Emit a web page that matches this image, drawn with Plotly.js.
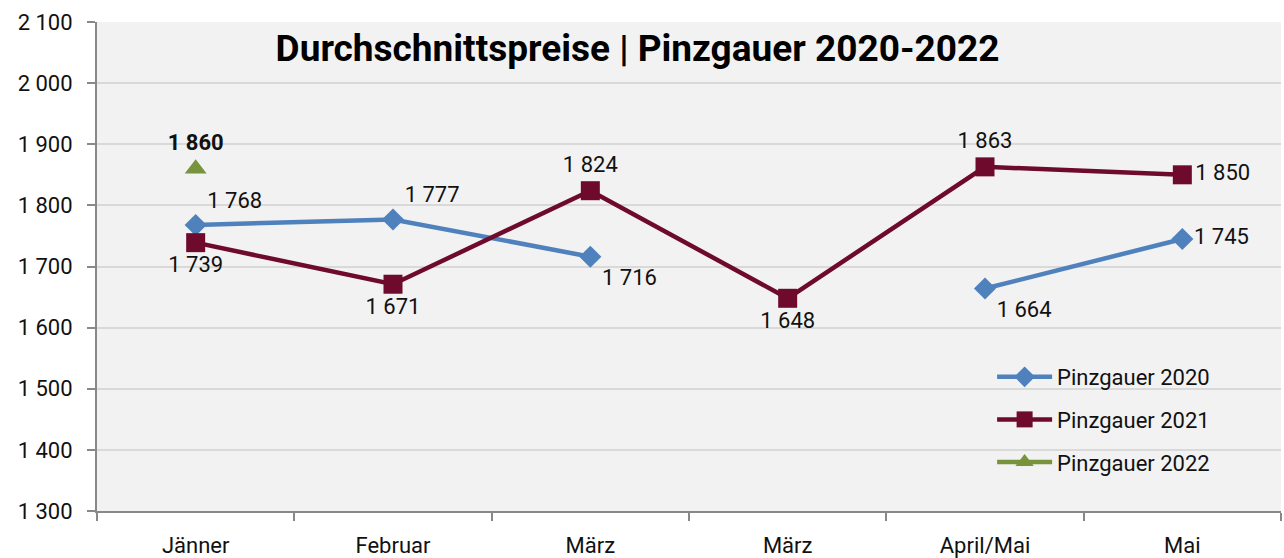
<!DOCTYPE html>
<html>
<head>
<meta charset="utf-8">
<script src="https://cdn.plot.ly/plotly-3.0.1.min.js"></script>
<style>html,body{margin:0;padding:0;background:#fff;}#chart{width:1284px;height:558px;}</style>
</head>
<body>
<div id="chart"></div>
<script>
const categories = ["Jänner", "Februar", "März", "März", "April/Mai", "Mai"];
const pinz2020 = [1768, 1777, 1716, null, 1664, 1745];
const pinz2021 = [1739, 1671, 1824, 1648, 1863, 1850];
const pinz2022 = [1860, null, null, null, null, null];
const pos2020 = ["top right", "top right", "bottom right", "middle right", "bottom right", "middle right"];
const pos2021 = ["bottom center", "bottom center", "top center", "bottom center", "top center", "middle right"];
const yTicks = [1300, 1400, 1500, 1600, 1700, 1800, 1900, 2000, 2100];

const idx = categories.map((_, i) => i);
const fmt = v => v == null ? "" : String(v).replace(/\B(?=(\d{3})+(?!\d))/g, " ");
const FONT = "Roboto, 'DejaVu Sans', sans-serif";

const traces = [
  {
    name: "Pinzgauer 2020", legendgroup: "a", x: idx, y: pinz2020, mode: "lines+markers+text",
    line: {color: "#4f81bd", width: 4.5}, marker: {symbol: "diamond", size: 17, color: "#4f81bd"},
    text: pinz2020.map(fmt), textposition: pos2020,
    textfont: {family: FONT, size: 22, color: "#111"}, connectgaps: false, cliponaxis: false
  },
  {
    name: "Pinzgauer 2021", legendgroup: "b", x: idx, y: pinz2021, mode: "lines+markers+text",
    line: {color: "#6e0a2c", width: 4.5}, marker: {symbol: "square", size: 19, color: "#6e0a2c"},
    text: pinz2021.map(fmt), textposition: pos2021,
    textfont: {family: FONT, size: 22, color: "#111"}, cliponaxis: false
  },
  {
    name: "Pinzgauer 2022", legendgroup: "c", x: idx, y: pinz2022, mode: "lines+markers+text",
    line: {color: "#77933c", width: 4.5}, marker: {symbol: "triangle-up", size: 19, color: "#77933c"},
    text: pinz2022.map(v => v == null ? "" : "<b>" + fmt(v) + "</b>"), textposition: "top center",
    textfont: {family: FONT, size: 22, color: "#111"}, cliponaxis: false
  }
];

const layout = {
  width: 1284, height: 558,
  margin: {l: 97, r: 3, t: 22, b: 47},
  paper_bgcolor: "#ffffff", plot_bgcolor: "#f2f2f2",
  font: {family: FONT, size: 22, color: "#111"},
  title: {text: "<b>Durchschnittspreise | Pinzgauer 2020-2022</b>", font: {family: FONT, size: 37, color: "#000"},
          x: 0.4565, xanchor: "center", y: 1 - 48 / 558, yanchor: "middle", xref: "paper", yref: "container"},
  showlegend: true,
  legend: {x: 0.756, y: 0.317, xanchor: "left", yanchor: "top", bgcolor: "rgba(0,0,0,0)",
           font: {family: FONT, size: 22, color: "#111"}, tracegroupgap: 11, itemwidth: 55},
  xaxis: {
    range: [-0.5, 5.5], tickvals: idx, ticktext: categories, ticks: "", showgrid: false,
    zeroline: false, showline: true, linecolor: "#888", linewidth: 2, ticklabelstandoff: 14,
    tickfont: {family: FONT, size: 22, color: "#111"},
    minor: {tickvals: [-0.5, 0.5, 1.5, 2.5, 3.5, 4.5, 5.5], ticks: "outside", ticklen: 8, tickcolor: "#888", tickwidth: 2, showgrid: false}
  },
  yaxis: {
    range: [1300, 2100], tickvals: yTicks, ticktext: yTicks.map(fmt), ticks: "outside", ticklen: 8,
    tickcolor: "#888", tickwidth: 2, showline: true, linecolor: "#888", linewidth: 2,
    gridcolor: "#d9d9d9", gridwidth: 2, zeroline: false, ticklabelstandoff: 10,
    tickfont: {family: FONT, size: 22, color: "#111"}
  }
};

Plotly.newPlot("chart", traces, layout, {staticPlot: true, displayModeBar: false});
</script>
</body>
</html>
